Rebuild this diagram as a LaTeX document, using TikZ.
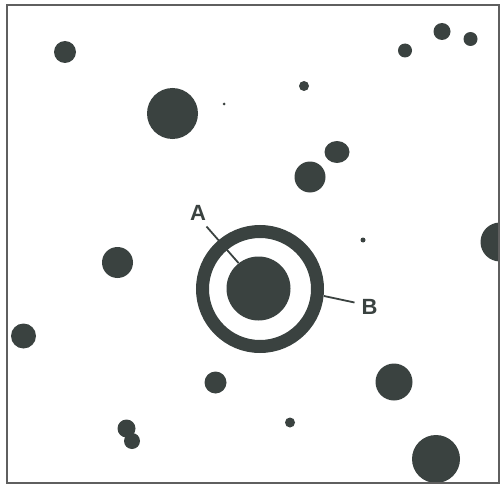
\documentclass[tikz,border=0pt]{standalone}
\usepackage{fontspec}
\setmainfont{Liberation Sans}
\usetikzlibrary{shapes.geometric}
\definecolor{ink}{RGB}{58,66,64}
\definecolor{framec}{RGB}{95,95,95}
\tikzset{
  blob/.style={circle, fill=ink, draw=none, inner sep=0pt, minimum size=#1},
  lbl/.style={font=\fontsize{22}{22}\selectfont\bfseries, text=ink, inner sep=0pt},
  leader/.style={draw=ink, line width=1.8pt}
}
\begin{document}
\begin{tikzpicture}[x=1pt, y=-1pt]
\useasboundingbox (0,0) rectangle (501,495);
\begin{scope}
\clip (7,5) rectangle (499,483);
\node[blob=22pt] (c1) at (65,52) {};
\node[blob=51pt] (c2) at (172.5,113.5) {};
\node[blob=3pt] (d1) at (224,104) {};
\node[blob=10pt] (c3) at (304,86) {};
\node[ellipse, fill=ink, inner sep=0pt, minimum width=25pt, minimum height=22pt] (c4) at (337,152) {};
\node[blob=31pt] (c5) at (310,177) {};
\node[blob=14pt] (c6) at (405,50.5) {};
\node[blob=17pt] (c7) at (442,31.5) {};
\node[blob=14pt] (c8) at (470.5,39) {};
\node[blob=39pt] (c9) at (500,242) {};
\node[blob=5pt] (d2) at (363,240) {};
\node[blob=31pt] (c10) at (117.5,262.5) {};
\node[blob=25pt] (c11) at (23.5,336) {};
\node[blob=22pt] (c12) at (215.5,382.5) {};
\node[blob=37pt] (c13) at (394,382) {};
\node[blob=10pt] (c14) at (290,422.5) {};
\node[blob=18pt] (c15) at (126.5,428.5) {};
\node[blob=16pt] (c16) at (132,441) {};
\node[blob=48pt] (c17) at (436,459) {};
% target
\node[circle, draw=ink, line width=13pt, inner sep=0pt, minimum size=115pt] (ring) at (260,289) {};
\node[blob=64pt] (core) at (258.5,288.5) {};
\end{scope}
\draw[framec, line width=1.3pt] (7,5) rectangle (499,483);
% labels
\node[lbl] (A) at (198,213) {A};
\node[lbl] (B) at (369.5,306.5) {B};
\coordinate (a1) at (206.5,226.5);
\coordinate (a2) at (238.5,263);
\coordinate (b1) at (324,296);
\coordinate (b2) at (354.5,302.5);
\draw[leader] (a1) -- (a2);
\draw[leader] (b1) -- (b2);
\end{tikzpicture}
\end{document}
